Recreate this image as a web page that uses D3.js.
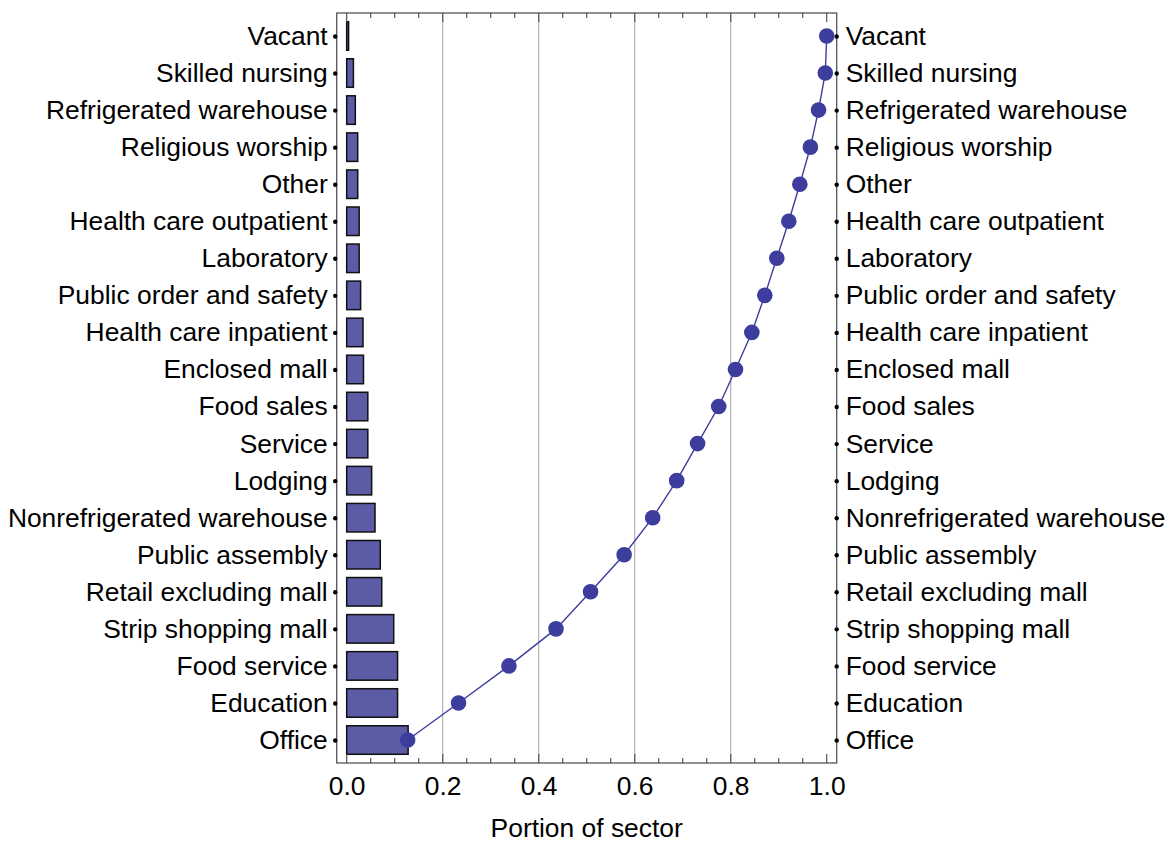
<!DOCTYPE html>
<html><head><meta charset="utf-8">
<script src="https://cdn.jsdelivr.net/npm/d3@7"></script>
<style>
html,body{margin:0;padding:0;background:#fff;}
svg text{font-family:"Liberation Sans",Arial,Helvetica,sans-serif;fill:#000;}
</style></head>
<body>
<svg id="chart" width="1169" height="842"></svg>
<script>
const categories = ["Vacant","Skilled nursing","Refrigerated warehouse","Religious worship","Other",
  "Health care outpatient","Laboratory","Public order and safety","Health care inpatient","Enclosed mall",
  "Food sales","Service","Lodging","Nonrefrigerated warehouse","Public assembly",
  "Retail excluding mall","Strip shopping mall","Food service","Education","Office"];
const portion = [0.004,0.014,0.018,0.023,0.023,
  0.026,0.026,0.029,0.034,0.035,
  0.044,0.044,0.052,0.059,0.070,
  0.073,0.098,0.106,0.106,0.128];
const cumulative = [1.000,0.997,0.983,0.966,0.944,
  0.921,0.896,0.871,0.844,0.810,
  0.775,0.731,0.6875,0.6375,0.578,
  0.508,0.436,0.338,0.233,0.127];
const xTickValues = [0,0.2,0.4,0.6,0.8,1.0];
const xMinorValues = [0.05,0.1,0.15,0.25,0.3,0.35,0.45,0.5,0.55,0.65,0.7,0.75,0.85,0.9,0.95];
const gridValues = [0.2,0.4,0.6,0.8];
const xTitle = "Portion of sector";

const FS = 26.4;
const svg = d3.select("#chart");
const L = 336.7, R = 836.7, T = 13, B = 763;
const x = d3.scaleLinear().domain([-0.0208, 1.0208]).range([L, R]);
const y = d3.scalePoint().domain(categories).range([T, B]).padding(0.62);
const step = y.step();
const barH = step * 0.77;

// gridlines
svg.append("g").selectAll("line").data(gridValues).join("line")
  .attr("x1", d => x(d)).attr("x2", d => x(d)).attr("y1", T).attr("y2", B)
  .attr("stroke", "#b3b3b3").attr("stroke-width", 1.2);

// bars
svg.append("g").selectAll("rect").data(categories).join("rect")
  .attr("x", x(0)).attr("y", d => y(d) - barH/2)
  .attr("width", (d,i) => x(portion[i]) - x(0)).attr("height", barH)
  .attr("fill", "#5b5ba6").attr("stroke", "#111").attr("stroke-width", 1.5);

// cumulative line
const line = d3.line().x((d,i) => x(cumulative[i])).y((d,i) => y(categories[i]));
svg.append("path").datum(categories).attr("d", line)
  .attr("fill", "none").attr("stroke", "#3d3d9e").attr("stroke-width", 1.4);
svg.append("g").selectAll("circle").data(categories).join("circle")
  .attr("cx", (d,i) => x(cumulative[i])).attr("cy", d => y(d)).attr("r", 7.8)
  .attr("fill", "#3d3d9e");

// frame
svg.append("rect").attr("x", L).attr("y", T).attr("width", R-L).attr("height", B-T)
  .attr("fill", "none").attr("stroke", "#555").attr("stroke-width", 1.3);

// x axis ticks bottom & top
const bottomAxis = d3.axisBottom(x).tickValues(xTickValues).tickFormat(d3.format(".1f")).tickSize(0).tickPadding(13);
const gb = svg.append("g").attr("transform", `translate(0,${B})`).call(bottomAxis);
gb.select(".domain").remove();
gb.selectAll("text").attr("font-size", FS).attr("font-family", "Liberation Sans, Arial, sans-serif").attr("fill", "#000");

const tickG = svg.append("g").attr("stroke", "#555").attr("stroke-width", 1.2);
[[xTickValues, 9],[xMinorValues, 5]].forEach(([vals, len]) => {
  tickG.selectAll(null).data(vals).join("line")
    .attr("x1", d => x(d)).attr("x2", d => x(d)).attr("y1", B).attr("y2", B - len);
  tickG.selectAll(null).data(vals).join("line")
    .attr("x1", d => x(d)).attr("x2", d => x(d)).attr("y1", T).attr("y2", T + len);
});

// category ticks (dots) and labels
const leftAxis = d3.axisLeft(y).tickSize(0).tickPadding(9);
const gl = svg.append("g").attr("transform", `translate(${L},0)`).call(leftAxis);
gl.select(".domain").remove();
gl.selectAll("text").attr("font-size", FS).attr("font-family", "Liberation Sans, Arial, sans-serif").attr("fill", "#000");
gl.selectAll(".tick").append("circle").attr("cx", -1.5).attr("r", 2.2).attr("fill", "#000");

const rightAxis = d3.axisRight(y).tickSize(0).tickPadding(9);
const gr = svg.append("g").attr("transform", `translate(${R},0)`).call(rightAxis);
gr.select(".domain").remove();
gr.selectAll("text").attr("font-size", FS).attr("font-family", "Liberation Sans, Arial, sans-serif").attr("fill", "#000");
gr.selectAll(".tick").append("circle").attr("cx", 0).attr("r", 2.2).attr("fill", "#000");

// axis title
svg.append("text").attr("x", (x(0)+x(1))/2).attr("y", 837).attr("text-anchor", "middle")
  .attr("font-size", FS).text(xTitle);
</script>
</body></html>
